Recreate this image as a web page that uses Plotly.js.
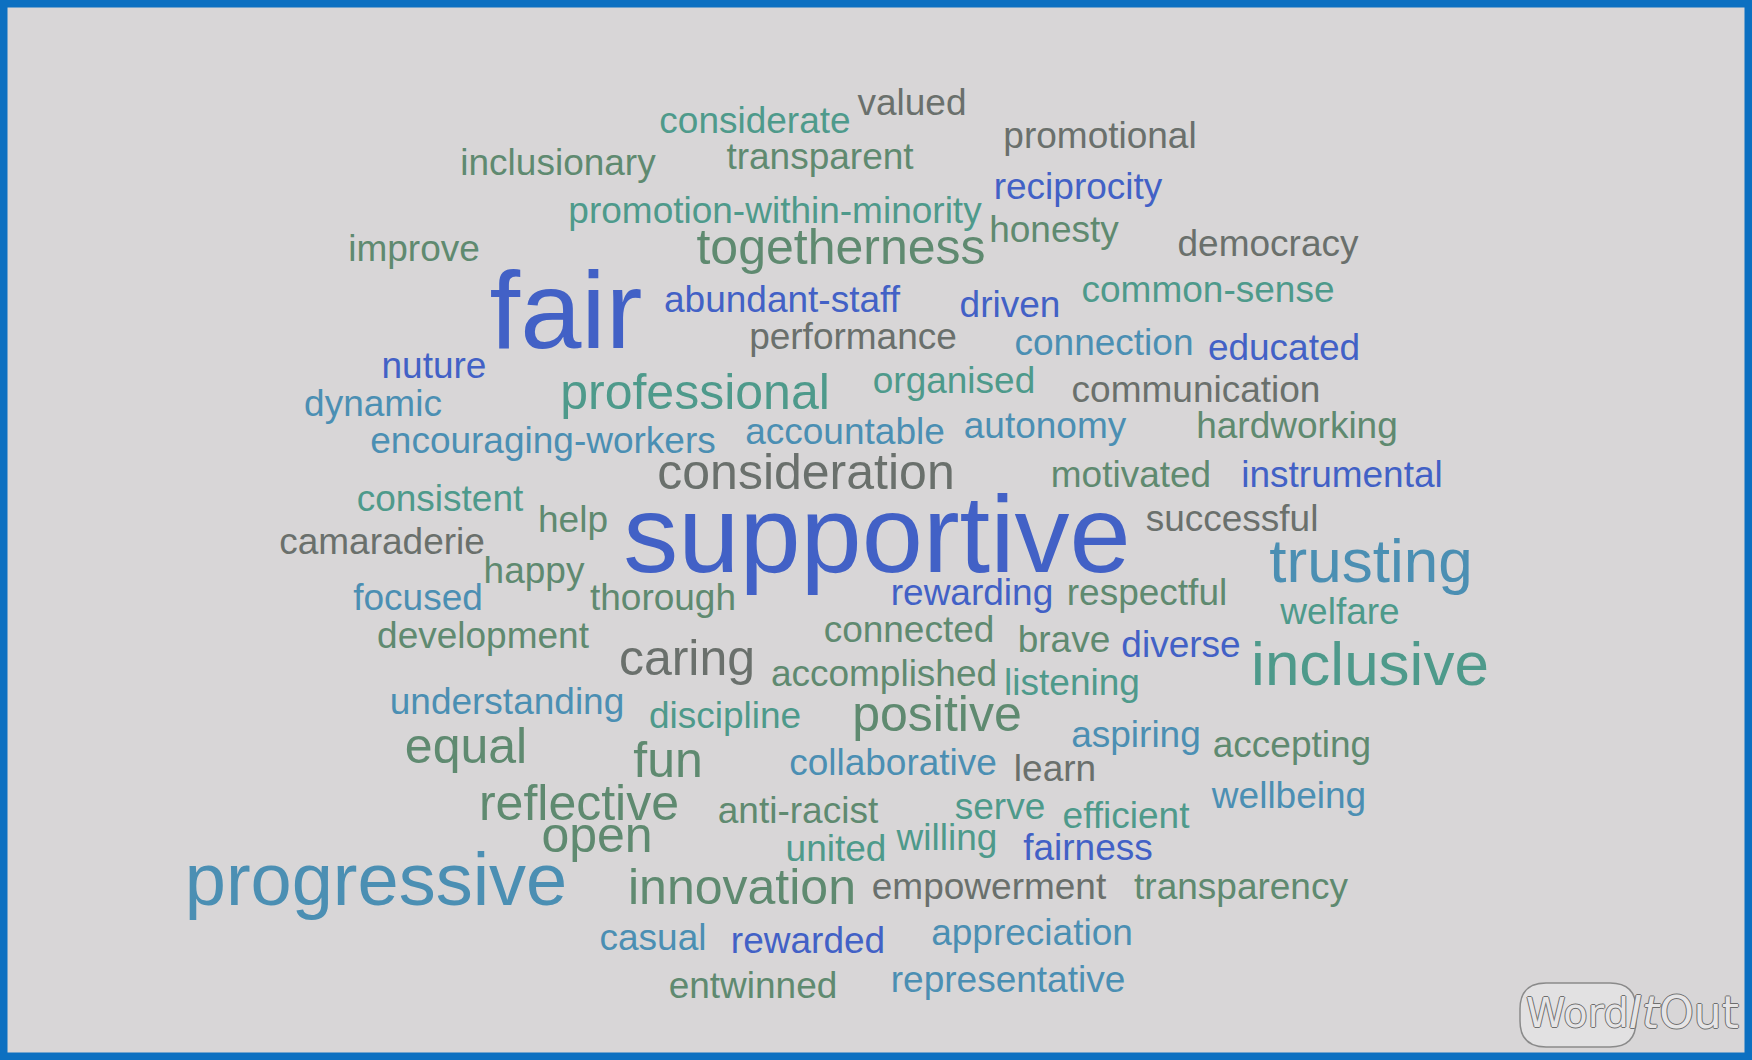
<!DOCTYPE html>
<html>
<head>
<meta charset="utf-8">
<script src="https://cdn.plot.ly/plotly-3.0.1.min.js"></script>
<style>
  html, body { margin: 0; padding: 0; background: #d8d6d7; }
  #chart { width: 1752px; height: 1060px; }
</style>
</head>
<body>
<div id="chart"></div>
<script>
// Words of the cloud
const words = [
  "valued","considerate","promotional","transparent","inclusionary","reciprocity",
  "promotion-within-minority","honesty","democracy","togetherness","improve","fair",
  "abundant-staff","driven","common-sense","performance","connection","educated",
  "nuture","professional","organised","communication","dynamic","accountable",
  "autonomy","hardworking","encouraging-workers","consideration","motivated","instrumental",
  "consistent","help","supportive","successful","camaraderie","trusting",
  "happy","focused","thorough","rewarding","respectful","welfare",
  "development","connected","caring","brave","diverse","inclusive",
  "accomplished","listening","understanding","discipline","positive","equal",
  "aspiring","accepting","fun","collaborative","learn","reflective",
  "wellbeing","anti-racist","serve","efficient","open","united",
  "willing","fairness","progressive","innovation","empowerment","transparency",
  "casual","rewarded","appreciation","entwinned","representative"
];

// Word weight (rendered size)
const weights = [
  37,37,37,37,37,37,
  37,37,37,50,37,110,
  37,37,37,37,37,37,
  37,50,37,37,37,37,
  37,37,37,50,37,37,
  37,37,110,37,37,62,
  37,37,37,37,37,37,
  37,37,50,37,37,62,
  37,37,37,37,50,50,
  37,37,50,37,37,50,
  37,37,37,37,50,37,
  37,37,74,50,37,37,
  37,37,37,37,37
];

// Placement in the cloud (horizontal / vertical position)
const posX = [
  912,755,1100,820,558,1078,
  775,1054,1268,841,414,566,
  782,1010,1208,853,1104,1284,
  434,695,954,1196,373,845,
  1045,1297,543,806,1131,1342,
  440,573,877,1232,382,1371,
  534,418,663,972,1147,1340,
  483,909,687,1064,1181,1370,
  884,1072,507,725,937,466,
  1136,1292,668,893,1055,579,
  1289,798,1000,1126,597,836,
  947,1088,376,742,989,1241,
  653,808,1032,753,1008
];
const posY = [
  106,124,139,160,166,190,
  214,233,247,251,252,320,
  303,308,293,340,346,351,
  369,396,384,393,407,435,
  429,429,444,476,478,478,
  502,523,544,522,545,566,
  574,601,601,596,596,615,
  639,633,662,643,648,669,
  677,686,705,719,718,750,
  738,748,764,766,772,807,
  799,814,810,819,839,852,
  841,851,886,891,890,890,
  941,944,936,989,983
];

// Colour family of each word
const family = [
  4,2,4,3,3,0,
  2,3,4,3,3,0,
  0,0,2,4,1,0,
  0,2,2,4,1,1,
  1,3,1,4,3,0,
  2,3,0,4,4,1,
  3,1,3,0,3,2,
  3,3,4,3,0,2,
  3,2,1,2,3,3,
  1,3,3,1,4,3,
  1,3,2,2,3,2,
  2,0,1,3,4,3,
  1,0,1,3,1
];
const palette = ["#4261c6", "#4b8fb3", "#4e9a8b", "#5f8a70", "#6a706c"];

const trace = {
  type: "scatter",
  mode: "text",
  x: posX,
  y: posY,
  text: words,
  textposition: "middle center",
  textfont: {
    family: "Liberation Sans, Arial, Helvetica, sans-serif",
    size: weights,
    color: family.map(f => palette[f])
  },
  hoverinfo: "text",
  showlegend: false
};

const logoFont = (size) => ({
  family: "DejaVu Sans, Liberation Sans, sans-serif",
  size: size,
  color: "#e6e5e6",
  shadow: "1px 0 0 #6e6e6e, -1px 0 0 #6e6e6e, 0 1px 0 #6e6e6e, 0 -1px 0 #6e6e6e"
});

const layout = {
  width: 1752,
  height: 1060,
  margin: {l: 0, r: 0, t: 0, b: 0, pad: 0},
  paper_bgcolor: "#d8d6d7",
  plot_bgcolor: "#d8d6d7",
  xaxis: {range: [0, 1752], visible: false, fixedrange: true},
  yaxis: {range: [1060, 0], visible: false, fixedrange: true},
  shapes: [
    {
      type: "path",
      xref: "x", yref: "y",
      path: "M 1546,983 L 1610,983 Q 1636,983 1636,1009 L 1636,1021 Q 1636,1047 1610,1047 L 1546,1047 Q 1520,1047 1520,1021 L 1520,1009 Q 1520,983 1546,983 Z",
      fillcolor: "#e2e1e2",
      line: {color: "#8a8a8a", width: 1.5},
      layer: "below"
    },
    {
      type: "rect",
      xref: "paper", yref: "paper",
      x0: 0, x1: 1, y0: 0, y1: 1,
      line: {color: "#0c70c1", width: 15},
      fillcolor: "rgba(0,0,0,0)"
    }
  ],
  annotations: [
    {
      xref: "x", yref: "y",
      x: 1577, y: 1013,
      text: "Word",
      showarrow: false,
      xanchor: "center", yanchor: "middle",
      font: logoFont(40)
    },
    {
      xref: "x", yref: "y",
      x: 1684, y: 1012,
      text: "<i>It</i>Out",
      showarrow: false,
      xanchor: "center", yanchor: "middle",
      font: logoFont(44)
    }
  ]
};

Plotly.newPlot("chart", [trace], layout, {displayModeBar: false, staticPlot: true});
</script>
</body>
</html>
